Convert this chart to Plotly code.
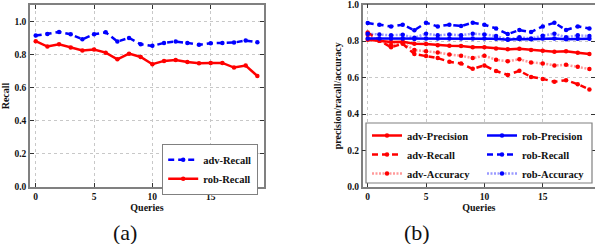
import plotly.graph_objects as go

queries = list(range(20))

# (a) Recall
adv_recall_a = [0.915, 0.925, 0.937, 0.923, 0.893, 0.923, 0.935, 0.879, 0.901, 0.863,
                0.853, 0.871, 0.879, 0.871, 0.859, 0.869, 0.871, 0.873, 0.885, 0.875]
rob_recall_a = [0.881, 0.849, 0.863, 0.843, 0.825, 0.831, 0.812, 0.772, 0.806, 0.786,
                0.742, 0.762, 0.768, 0.756, 0.748, 0.750, 0.750, 0.722, 0.734, 0.671]

# (b) precision / recall / accuracy
adv_precision = [0.808, 0.802, 0.795, 0.797, 0.786, 0.784, 0.778, 0.775, 0.773, 0.766,
                 0.767, 0.760, 0.755, 0.758, 0.751, 0.747, 0.742, 0.744, 0.736, 0.729]
adv_recall = [0.848, 0.804, 0.766, 0.786, 0.729, 0.718, 0.707, 0.687, 0.678, 0.648,
              0.667, 0.636, 0.615, 0.637, 0.604, 0.593, 0.577, 0.586, 0.564, 0.535]
adv_accuracy = [0.835, 0.802, 0.777, 0.791, 0.751, 0.745, 0.738, 0.727, 0.720, 0.707,
                0.720, 0.698, 0.690, 0.701, 0.683, 0.678, 0.667, 0.670, 0.659, 0.647]
rob_precision = [0.815, 0.815, 0.814, 0.815, 0.812, 0.815, 0.815, 0.815, 0.814, 0.815,
                 0.815, 0.813, 0.808, 0.812, 0.811, 0.814, 0.815, 0.811, 0.813, 0.813]
rob_recall = [0.899, 0.890, 0.881, 0.890, 0.860, 0.901, 0.881, 0.890, 0.883, 0.901,
              0.890, 0.870, 0.839, 0.861, 0.850, 0.881, 0.901, 0.861, 0.881, 0.870]
rob_accuracy = [0.841, 0.837, 0.832, 0.835, 0.819, 0.841, 0.832, 0.837, 0.832, 0.841,
                0.837, 0.828, 0.810, 0.821, 0.815, 0.830, 0.841, 0.821, 0.832, 0.828]

y_ticks = [0.0, 0.2, 0.4, 0.6, 0.8, 1.0]
y_tick_text = ["0.0", "0.2", "0.4", "0.6", "0.8", "1.0"]
x_ticks = [0, 5, 10, 15]

RED = "#ff0000"
BLUE = "#0000ff"
FONT = "Liberation Serif"
DASH = "6px,4px"
DOT = "2px,1.5px"

fig = go.Figure()


def add(x, y, name, color, dash, xa, ya, legend, linecolor=None, width=2.5):
    fig.add_trace(go.Scatter(
        x=x, y=y, name=name, mode="lines+markers",
        line=dict(color=linecolor or color, dash=dash, width=width),
        marker=dict(color=color, size=4.5),
        xaxis=xa, yaxis=ya, legend=legend,
    ))


add(queries, adv_recall_a, "adv-Recall", BLUE, DASH, "x", "y", "legend")
add(queries, rob_recall_a, "rob-Recall", RED, "solid", "x", "y", "legend")

add(queries, adv_precision, "adv-Precision", RED, "solid", "x2", "y2", "legend2")
add(queries, adv_recall, "adv-Recall", RED, DASH, "x2", "y2", "legend2")
add(queries, adv_accuracy, "adv-Accuracy", RED, DOT, "x2", "y2", "legend2",
    linecolor="rgba(255,0,0,0.4)")
add(queries, rob_precision, "rob-Precision", BLUE, "solid", "x2", "y2", "legend3")
add(queries, rob_recall, "rob-Recall", BLUE, DASH, "x2", "y2", "legend3")
add(queries, rob_accuracy, "rob-Accuracy", BLUE, DOT, "x2", "y2", "legend3",
    linecolor="rgba(0,0,255,0.4)")

W, H = 595, 244


def px(v):
    return v / W


def py(v):
    return 1 - v / H


axis_common = dict(
    showline=True, linecolor="#808080", linewidth=1.5, mirror="ticks",
    ticks="inside", ticklen=4, tickcolor="#333", automargin=False,
    showgrid=True, gridcolor="#c8c8c8", griddash="dot", gridwidth=1,
    zeroline=False,
    tickfont=dict(family=FONT, size=9.5, color="#111", weight="bold"),
)

title_font = dict(family=FONT, size=10, color="#111", weight="bold")
legend_font = dict(family=FONT, size=10.5, color="#111", weight="bold")

fig.update_layout(
    width=W, height=H,
    margin=dict(l=0, r=0, t=0, b=0),
    paper_bgcolor="white", plot_bgcolor="white",
    font=dict(family=FONT, color="#111"),
    xaxis=dict(axis_common, domain=[px(30), px(264)], range=[-0.49, 19.57],
               tickvals=x_ticks, anchor="y",
               title=dict(text="Queries", font=title_font, standoff=3)),
    yaxis=dict(axis_common, domain=[py(187), py(5)], range=[0, 1.1],
               tickvals=y_ticks, ticktext=y_tick_text, anchor="x",
               title=dict(text="Recall", font=title_font, standoff=4)),
    xaxis2=dict(axis_common, domain=[px(362.7), 1.0], range=[-0.43, 19.48],
                tickvals=x_ticks, anchor="y2",
                title=dict(text="Queries", font=title_font, standoff=3)),
    yaxis2=dict(axis_common, domain=[py(187), py(4.7)], range=[0, 1.0],
                tickvals=y_ticks, ticktext=y_tick_text, anchor="x2",
                title=dict(text="precision/racall/accuracy", font=title_font, standoff=4)),
    legend=dict(x=px(258), xanchor="right", y=py(144), yanchor="top",
                bgcolor="white", bordercolor="#808080", borderwidth=1.2,
                font=legend_font, itemwidth=30, tracegroupgap=0),
    legend2=dict(x=px(367), xanchor="left", y=py(121), yanchor="top",
                 bgcolor="rgba(0,0,0,0)", borderwidth=0,
                 font=legend_font, itemwidth=30, tracegroupgap=0),
    legend3=dict(x=px(590), xanchor="right", y=py(121), yanchor="top",
                 bgcolor="rgba(0,0,0,0)", borderwidth=0,
                 font=legend_font, itemwidth=30, tracegroupgap=0),
    shapes=[dict(type="rect", xref="paper", yref="paper",
                 x0=px(366), x1=px(592), y0=py(183), y1=py(123),
                 line=dict(color="#808080", width=1.2), fillcolor="white",
                 layer="above")],
    annotations=[
        dict(text="(a)", x=px(125), y=py(232), xref="paper", yref="paper",
             showarrow=False, font=dict(family=FONT, size=22, color="#111"),
             xanchor="center", yanchor="middle"),
        dict(text="(b)", x=px(417), y=py(232), xref="paper", yref="paper",
             showarrow=False, font=dict(family=FONT, size=22, color="#111"),
             xanchor="center", yanchor="middle"),
    ],
    showlegend=True,
)

fig.write_html("out.html",
               config={"displayModeBar": False},
               post_script="document.body.style.margin='0';document.body.style.overflow='hidden';")
